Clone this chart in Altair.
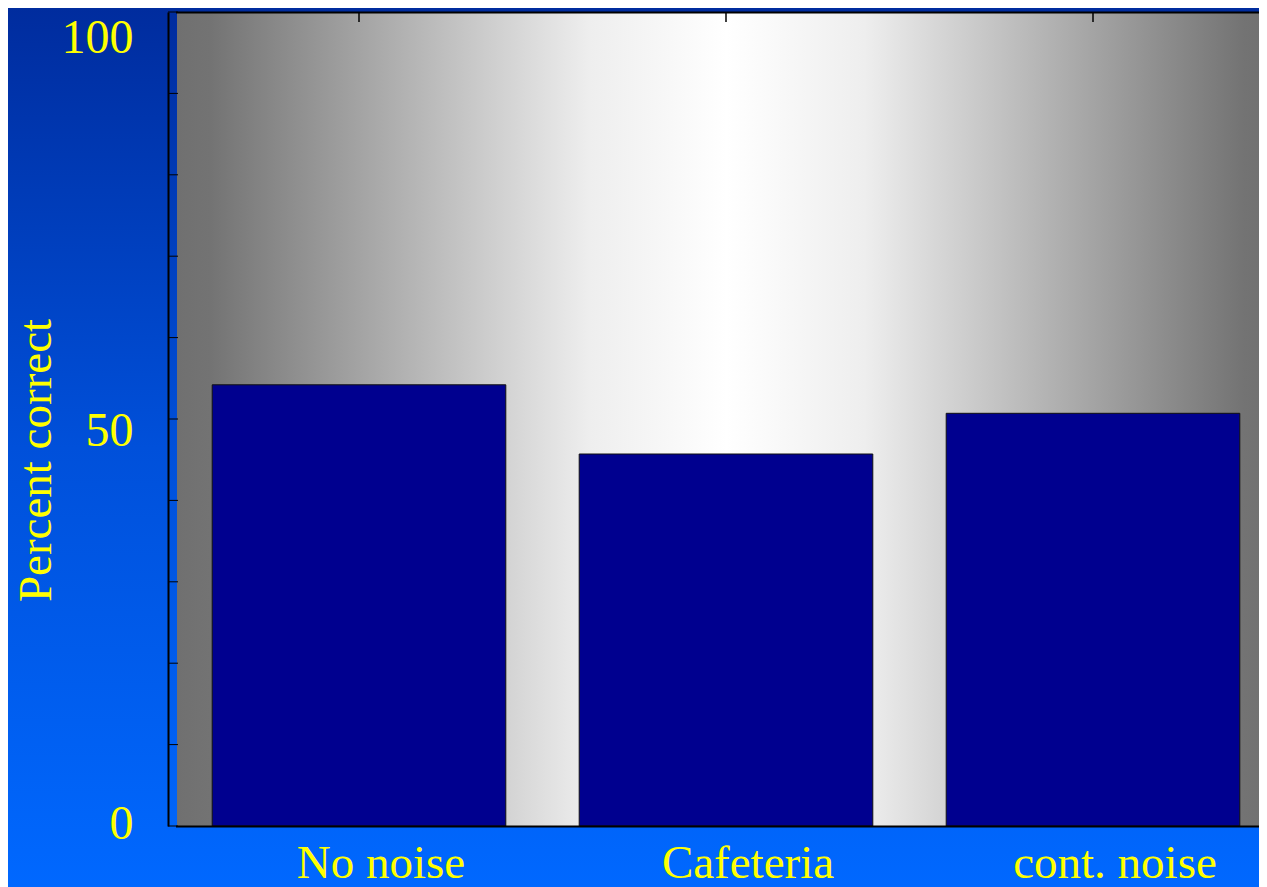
import altair as alt
import pandas as pd

# ---- data ----
categories = ["No noise", "Cafeteria", "cont. noise"]
percent_correct = [54.2, 45.7, 50.7]
y_tick_values = [0, 10, 20, 30, 40, 50, 60, 70, 80, 90, 100]
y_label_values = [0, 50, 100]

W, H = 1091, 814
FONT = "Liberation Serif"
YELLOW = "#ffff00"
NAVY = "#00008f"

bars_df = pd.DataFrame({"category": categories, "value": percent_correct})
ticks_df = pd.DataFrame({"tick": y_tick_values})
one_df = pd.DataFrame({"k": [0]})

x_scale = alt.Scale(domain=categories, range=[7.5, 1108.5], paddingInner=0.2, paddingOuter=0.1)
y_scale = alt.Scale(domain=[0, 100], nice=False, zero=True)

page_grad = alt.LinearGradient(
    gradient="linear", x1=0, x2=0, y1=0, y2=1,
    stops=[alt.GradientStop(color="#002c9e", offset=0),
           alt.GradientStop(color="#0050da", offset=0.5),
           alt.GradientStop(color="#0068ff", offset=1)],
)
plot_grad = alt.LinearGradient(
    gradient="linear", x1=0, x2=1, y1=0, y2=0,
    stops=[alt.GradientStop(color="#707070", offset=0),
           alt.GradientStop(color="#737373", offset=0.03),
           alt.GradientStop(color="#eeeeee", offset=0.375),
           alt.GradientStop(color="#ffffff", offset=0.5),
           alt.GradientStop(color="#eeeeee", offset=0.625),
           alt.GradientStop(color="#737373", offset=0.97),
           alt.GradientStop(color="#707070", offset=1)],
)

page_bg = alt.Chart(one_df).mark_rect(fill=page_grad, strokeWidth=0).encode(
    x=alt.value(-160), x2=alt.value(W), y=alt.value(-4), y2=alt.value(H + 61)
)
plot_bg = alt.Chart(one_df).mark_rect(fill=plot_grad, strokeWidth=0).encode(
    x=alt.value(9), x2=alt.value(1109), y=alt.value(0), y2=alt.value(H)
)

y_axis = alt.Axis(
    values=y_label_values, orient="left", title="Percent correct",
    titleFont=FONT, titleFontSize=47, titleFontWeight="normal", titleColor=YELLOW,
    titleAngle=270, titleX=-132, titleY=448, titleAlign="center", titleBaseline="middle",
    labelFont=FONT, labelFontSize=48, labelColor=YELLOW, labelAlign="right",
    labelFlush=True, labelFlushOffset=10, labelOffset=12, labelPadding=35,
    ticks=False, tickSize=0, domain=True, domainColor="black", domainWidth=2,
    grid=False, zindex=1, labelOverlap=False,
)
x_axis_bottom = alt.Axis(
    orient="bottom", title=None, labelFont=FONT, labelFontSize=47, labelColor=YELLOW,
    labelAngle=0, labelBaseline="alphabetic", labelPadding=51, labelOffset=22,
    labelLimit=600, ticks=False, tickSize=0, domain=True, domainColor="black",
    domainWidth=2, grid=False, zindex=1,
)
x_axis_top = alt.Axis(
    orient="top", title=None, labels=False, ticks=False, tickSize=0,
    domain=True, domainColor="black", domainWidth=2, grid=False, zindex=1,
)

bars = alt.Chart(bars_df).mark_bar(color=NAVY, stroke="#111111", strokeWidth=1).encode(
    x=alt.X("category:N", sort=categories, scale=x_scale, axis=x_axis_bottom),
    y=alt.Y("value:Q", scale=y_scale, axis=y_axis),
)

left_ticks = alt.Chart(ticks_df).mark_rule(color="black", strokeWidth=1).encode(
    y=alt.Y("tick:Q", scale=y_scale, axis=y_axis),
    x=alt.value(0), x2=alt.value(10),
)

top_ticks = alt.Chart(bars_df).mark_rule(color="black", strokeWidth=1.5).encode(
    x=alt.X("category:N", sort=categories, scale=x_scale, axis=x_axis_top),
    y=alt.value(0), y2=alt.value(10),
)

chart = alt.layer(page_bg, plot_bg, bars, left_ticks, top_ticks).properties(
    width=W, height=H,
    padding={"left": 160, "top": 4, "right": 0, "bottom": 61},
    autosize=alt.AutoSizeParams(type="none"),
    background="#0050da",
).configure_view(strokeWidth=0)

chart.save("out.html", embed_options={"renderer": "svg", "actions": False})
